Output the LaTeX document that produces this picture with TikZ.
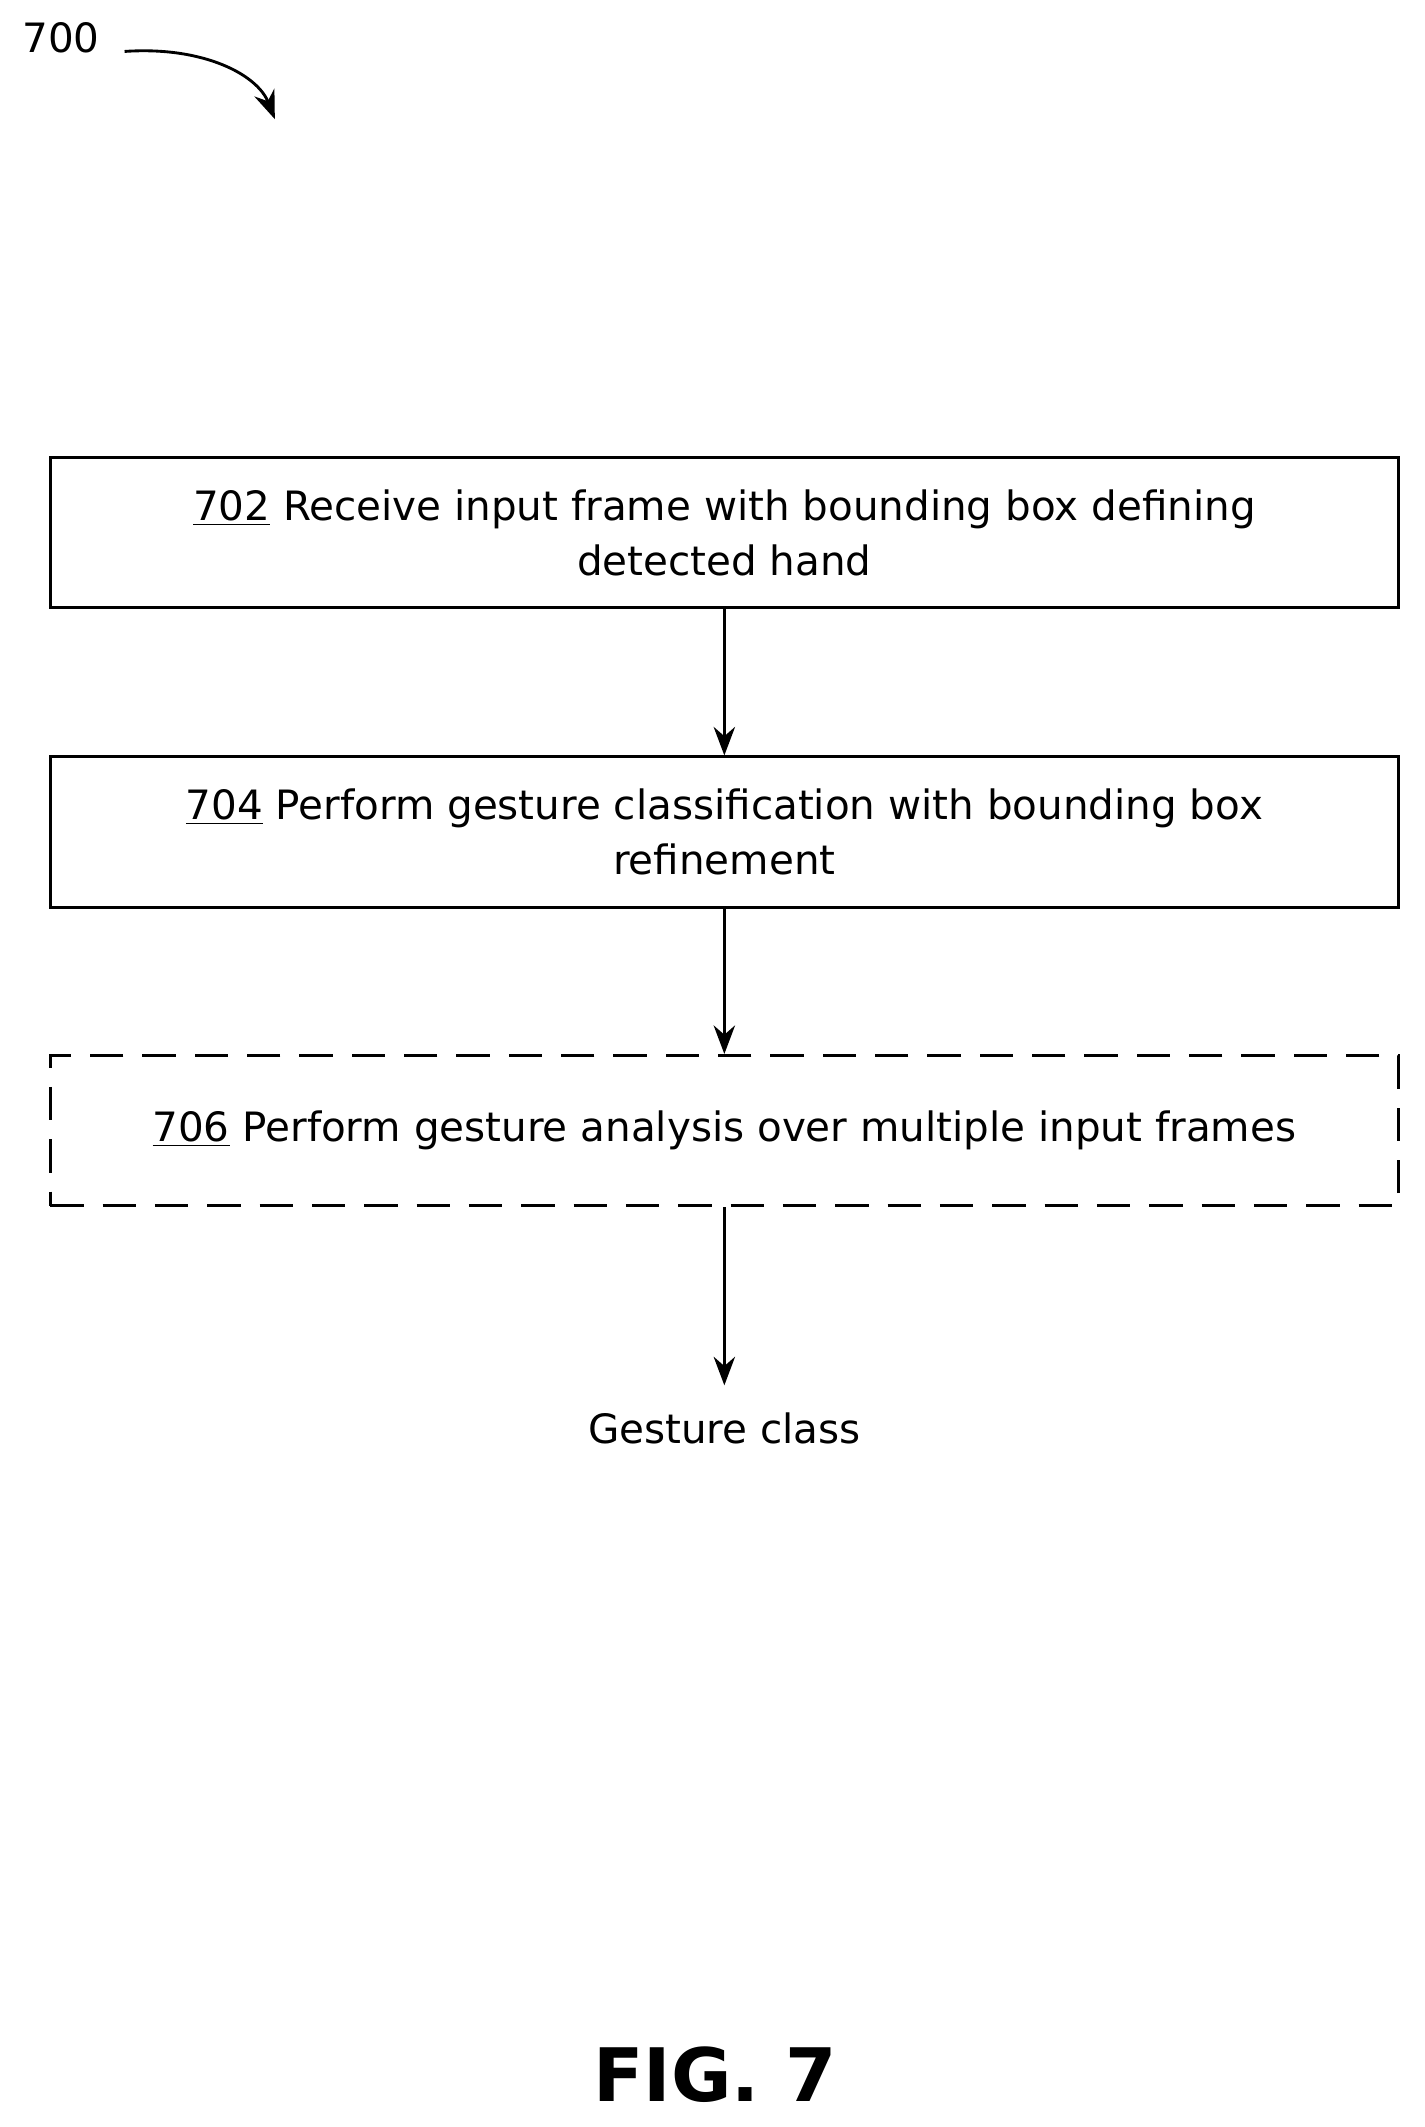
\documentclass[tikz,border=0pt]{standalone}
\usepackage{fontspec}
\setmainfont{DejaVu Sans}
\usetikzlibrary{arrows.meta}

\begin{document}
\begin{tikzpicture}[x=0.02cm, y=-0.02cm,
        stepbox/.style={rectangle, draw, line width=1.2pt, minimum width=19.92cm, minimum height=2.22cm, align=center, font=\fontsize{17}{23}\selectfont},
        flow/.style={-{Stealth[length=12pt,width=9pt]}, line width=1.2pt}]
            \useasboundingbox (0,0) rectangle (1052,1571);

            \node (lbl) at (45,28) {\fontsize{17}{20}\selectfont 700};
            \coordinate (lblend) at (203,88);
            \draw[flow] (92,38) .. controls (150,34) and (190,55) .. (lblend);

            \node[stepbox] (s702) at (535,393.5) {\underline{702} Receive input frame with bounding box defining\\detected hand};
            \node[stepbox] (s704) at (535,614.5) {\underline{704} Perform gesture classification with bounding box\\refinement};
            \node[stepbox, dashed, dash pattern=on 14pt off 8pt] (s706) at (535,835) {\underline{706} Perform gesture analysis over multiple input frames};
            \node (out) at (535,1055) {\fontsize{17}{20}\selectfont Gesture class};

            \draw[flow] (s702) -- (s704);
            \draw[flow] (s704) -- (s706);
            \draw[flow] (s706.south) -- ([yshift=8pt]out.north);

            \node (fig) at (528,1532) {\fontsize{31}{36}\selectfont\bfseries FIG. 7};
        \end{tikzpicture}
\end{document}
